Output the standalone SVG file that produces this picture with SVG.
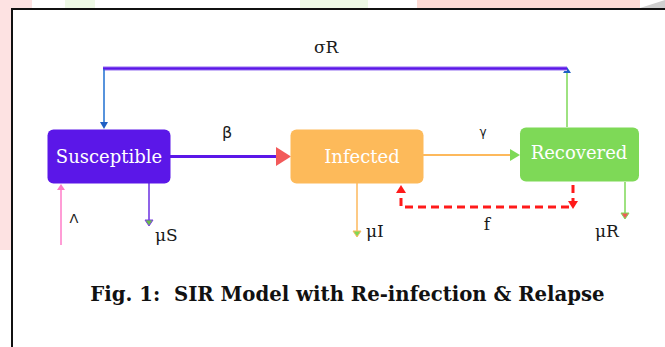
<svg xmlns="http://www.w3.org/2000/svg" width="665" height="347" viewBox="0 0 665 347">
<style>
.node-label{font-family:"DejaVu Serif","Liberation Serif",serif;font-size:18px;fill:#ffffff;text-anchor:middle}
.lbl{font-family:"DejaVu Serif","Liberation Serif",serif;font-size:17px;fill:#1a1a1a}
.sans{font-family:"DejaVu Sans","Liberation Sans",sans-serif;fill:#1a1a1a}
.cap{font-family:"DejaVu Serif","Liberation Serif",serif;font-size:19.7px;font-weight:bold;fill:#111;text-anchor:middle;white-space:pre}
</style>
<rect width="665" height="347" fill="#ffffff"/>
<g id="background">
<rect x="0" y="0" width="32" height="8" fill="#fde2e2"/>
<rect x="65" y="0" width="30" height="8" fill="#eef9e6"/>
<rect x="300" y="0" width="68" height="8" fill="#eef9e6"/>
<rect x="417" y="0" width="223" height="8" fill="#fddad4"/>
<polygon points="640,8 665,0 665,8" fill="#cfcfcf"/>
<rect x="0" y="0" width="11" height="250" fill="#fde2e2"/>
</g>
<g id="frame">
<path d="M12,347 V9 H665" fill="none" stroke="#111" stroke-width="2"/>
</g>
<g id="connectors">
<line x1="567" y1="127" x2="567" y2="72" stroke="#7ed957" stroke-width="1.5"/>
<polygon points="563,73 571,73 567,67" fill="#1f5fc4"/>
<line x1="103" y1="68.5" x2="567" y2="68.5" stroke="#c9b6f7" stroke-width="5"/>
<line x1="103" y1="68.5" x2="567" y2="68.5" stroke="#5b17e8" stroke-width="2.5"/>
<line x1="104" y1="69" x2="104" y2="122" stroke="#1f6fd0" stroke-width="1.5"/>
<polygon points="100,122 108,122 104,129" fill="#1f5fc4"/>
<line x1="170" y1="156.5" x2="278" y2="156.5" stroke="#5b17e8" stroke-width="3"/>
<polygon points="276,147 291,156.5 276,166" fill="#f25a5a"/>
<line x1="423" y1="155" x2="511" y2="155" stroke="#fdb95c" stroke-width="2"/>
<polygon points="510,149 520,155 510,161" fill="#7ed957"/>
<line x1="149" y1="183" x2="149" y2="221" stroke="#6a2fe0" stroke-width="1.5"/>
<polygon points="145,220 153,220 149,226" fill="#6bbf4a" stroke="#7a3fe0" stroke-width="1"/>
<line x1="61" y1="245" x2="61" y2="189" stroke="#ff7cc8" stroke-width="1.5"/>
<polygon points="57,190 65,190 61,184" fill="#ff7cc8"/>
<line x1="357" y1="183" x2="357" y2="231" stroke="#fdb95c" stroke-width="1.5"/>
<polygon points="353,231 361,231 357,237" fill="#7ed957" stroke="#fdb95c" stroke-width="1"/>
<line x1="625" y1="182" x2="625" y2="213" stroke="#7ed957" stroke-width="1.5"/>
<polygon points="621,213 629,213 625,219" fill="#f25a5a" stroke="#7ed957" stroke-width="1"/>
<path d="M573,185 V207 H401 V193" fill="none" stroke="#ff1a1a" stroke-width="3" stroke-dasharray="8,5"/>
<polygon points="568,201 578,201 573,209" fill="#ff1a1a"/>
<polygon points="396,193 406,193 401,185" fill="#ff1a1a"/>
</g>
<g id="labels">
<text x="314" y="53" class="lbl">σR</text>
<text x="227" y="138" class="sans" font-size="16" text-anchor="middle">β</text>
<text x="483" y="136" class="sans" font-size="12" text-anchor="middle">γ</text>
<text x="74" y="223" class="sans" font-size="13" text-anchor="middle">Λ</text>
<text x="155" y="241" class="lbl">μS</text>
<text x="366" y="237" class="lbl">μI</text>
<text x="595" y="237" class="lbl">μR</text>
<text x="487" y="230" class="lbl" text-anchor="middle">f</text>
</g>
<g id="node-susceptible">
<rect x="47.5" y="129.5" width="123" height="54" rx="6" fill="#5b17e8"/>
<text x="109" y="163" class="node-label">Susceptible</text>
</g>
<g id="node-infected">
<rect x="290.5" y="129.5" width="133" height="54" rx="6" fill="#fdba5a"/>
<text x="362" y="163" class="node-label">Infected</text>
</g>
<g id="node-recovered">
<rect x="520" y="127.5" width="119" height="54" rx="6" fill="#7ed957"/>
<text x="579" y="159" class="node-label">Recovered</text>
</g>
<g id="caption">
<text x="347.5" y="301" class="cap" xml:space="preserve">Fig. 1:  SIR Model with Re-infection &amp; Relapse</text>
</g>
</svg>
